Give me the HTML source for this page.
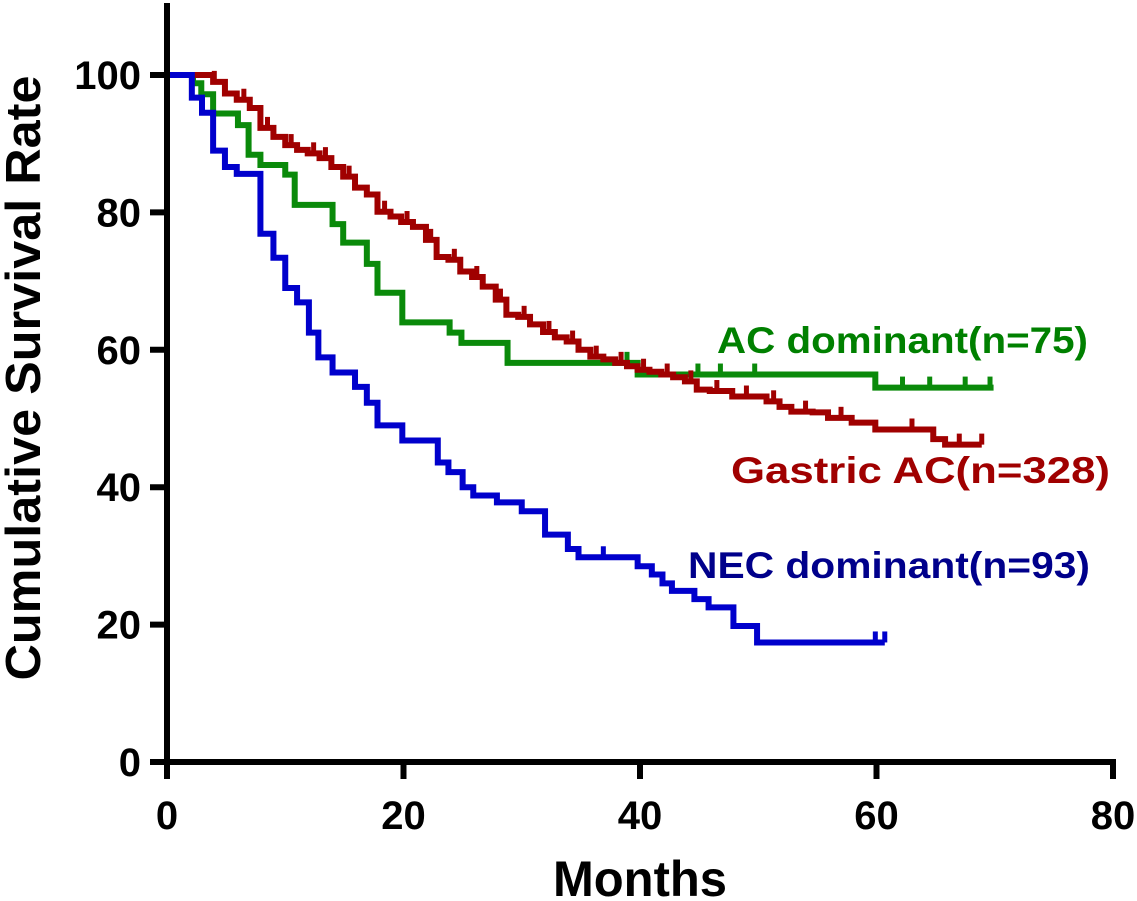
<!DOCTYPE html>
<html><head><meta charset="utf-8"><style>
html,body{margin:0;padding:0;background:#fff;}
svg{display:block;font-family:"Liberation Sans",Arial,sans-serif;font-weight:bold;}
</style></head><body>
<svg id="chart" width="1137" height="901" viewBox="0 0 1137 901" xmlns="http://www.w3.org/2000/svg">
<g id="marks"></g>
<g id="axes"></g>
<text transform="translate(40,378) rotate(-90)" text-anchor="middle" font-size="49" fill="#000" textLength="605" lengthAdjust="spacingAndGlyphs">Cumulative Survival Rate</text>
<text x="640" y="896" text-anchor="middle" font-size="50" fill="#000" textLength="174" lengthAdjust="spacingAndGlyphs">Months</text>
<text x="717" y="353" font-size="37" fill="#008000" textLength="371" lengthAdjust="spacingAndGlyphs">AC dominant(n=75)</text>
<text x="731" y="483" font-size="37" fill="#a00000" textLength="379" lengthAdjust="spacingAndGlyphs">Gastric AC(n=328)</text>
<text x="688" y="578" font-size="37" fill="#00008b" textLength="402" lengthAdjust="spacingAndGlyphs">NEC dominant(n=93)</text>
</svg>
<script>
const xTicks = [0, 20, 40, 60, 80];
const yTicks = [0, 20, 40, 60, 80, 100];
const necT = [0,2.1,2.96,3.9,4.9,5.9,7.9,9,10,11,12,12.8,14,15.9,16.9,17.8,19.9,22.9,23.8,25,25.9,27.9,30,31.97,33.9,34.8,39.8,41,41.9,42.7,44.6,45.8,47.9,49.9];
const necS = [100,96.7,94.5,89,86.6,85.6,76.9,73.4,69,66.9,62.5,58.9,56.7,54.6,52.3,49,46.8,43.6,42.2,40,38.8,37.8,36.5,33.1,31,29.8,28.5,27.3,26,24.9,23.7,22.5,19.8,17.4];
const necEnd = 60.7;
const necCens = [36.9,59.9,60.7];
const acT = [0,2.2,2.9,3.9,6,6.9,7.9,10,10.8,14,14.9,16.9,17.8,19.9,23.9,24.9,28.8,39.8,59.9];
const acS = [100,98.8,97.2,94.4,92.7,88.4,86.9,85.5,81.1,78.3,75.6,72.5,68.3,64,62.5,61,58.1,56.4,54.5];
const acEnd = 69.9;
const acCens = [38.9,44.9,46.8,49.7,62.2,64.5,67.5,69.6];
const gaT = [0,3.9,4.9,5.9,7,7.9,9,10,11,11.9,12.9,13.9,14.9,15.9,16.9,17.8,18.9,19.8,20.8,21.9,22.8,23.8,24.8,25.8,26.7,27.8,28.7,29.7,30.7,31.8,32.8,33.8,34.8,35.8,36.9,37.9,38.9,39.8,40.8,41.8,42.8,43.8,44.8,45.9,47.8,50.7,51.8,52.8,54.6,55.9,57.9,59.9,64.8,65.8];
const gaS = [100,99,97.3,96.4,95.2,92.3,91,89.8,89.1,88.6,87.9,86.6,85.2,83.6,82.6,80.1,79.4,78.6,77.9,76,73.5,73.1,71.4,70.6,69.2,67.3,65.1,64.8,63.7,62.6,61.8,61.2,60,59,58.6,58.1,57.6,57.1,56.8,56.4,56,55.4,54.2,54,53.2,52.5,51.7,51,50.9,50.1,49.4,48.4,47,46.2];
const gaEnd = 68.9;
const gaCens = [4,6.5,8.5,10.5,12.4,13.4,15.4,18.4,20.3,22.3,24.3,26.2,28.2,30.2,32.3,34.3,36.3,38.4,40.3,42.3,44.3,46.5,49,51.3,54,57,63,67,68.9];

const X0=167, X1=1113, Y0=762, Y100=75;
function xs(m){return X0+(X1-X0)*m/80;}
function ys(s){return Y0+(Y100-Y0)*s/100;}
const NS='http://www.w3.org/2000/svg';
const marks=document.getElementById('marks'), axes=document.getElementById('axes');
function mk(tag,attrs,parent){const e=document.createElementNS(NS,tag);for(const k in attrs)e.setAttribute(k,attrs[k]);parent.appendChild(e);return e;}

function drawSeries(T,S,end,cens,color,name){
  let d='M'+xs(T[0])+','+ys(S[0]);
  for(let i=1;i<T.length;i++){d+=' H'+xs(T[i])+' V'+ys(S[i]);}
  d+=' H'+xs(end);
  const p=mk('path',{d:d,fill:'none',stroke:color,'stroke-width':6,'stroke-linejoin':'miter'},marks);
  
  
  cens.forEach(c=>{
    let s=S[0];for(let i=0;i<T.length;i++){if(T[i]<=c)s=S[i];}
    const l=mk('line',{x1:xs(c),x2:xs(c),y1:ys(s),y2:ys(s)-11,stroke:color,'stroke-width':5},marks);
    
    
  });
}
drawSeries(acT,acS,acEnd,acCens,'#0a8a0a','ac-dominant');
drawSeries(gaT,gaS,gaEnd,gaCens,'#a00000','gastric-ac');
drawSeries(necT,necS,necEnd,necCens,'#0000cc','nec-dominant');

const ya=mk('line',{x1:X0,x2:X0,y1:3,y2:779,stroke:'#000','stroke-width':6},axes);


const xa=mk('line',{x1:150,x2:X1+3,y1:Y0,y2:Y0,stroke:'#000','stroke-width':6},axes);


yTicks.forEach(v=>{
  const t=mk('line',{x1:150,x2:X0,y1:ys(v),y2:ys(v),stroke:'#000','stroke-width':6},axes);
  
  
  const l=mk('text',{x:141,y:ys(v)+14,'text-anchor':'end','font-size':40,fill:'#000'},axes);
  l.textContent=v;
  
  
});
xTicks.forEach(v=>{
  const t=mk('line',{x1:xs(v),x2:xs(v),y1:Y0,y2:779,stroke:'#000','stroke-width':6},axes);
  
  
  const l=mk('text',{x:xs(v),y:829,'text-anchor':'middle','font-size':40,fill:'#000'},axes);
  l.textContent=v;
  
  
});
</script>
</body></html>
